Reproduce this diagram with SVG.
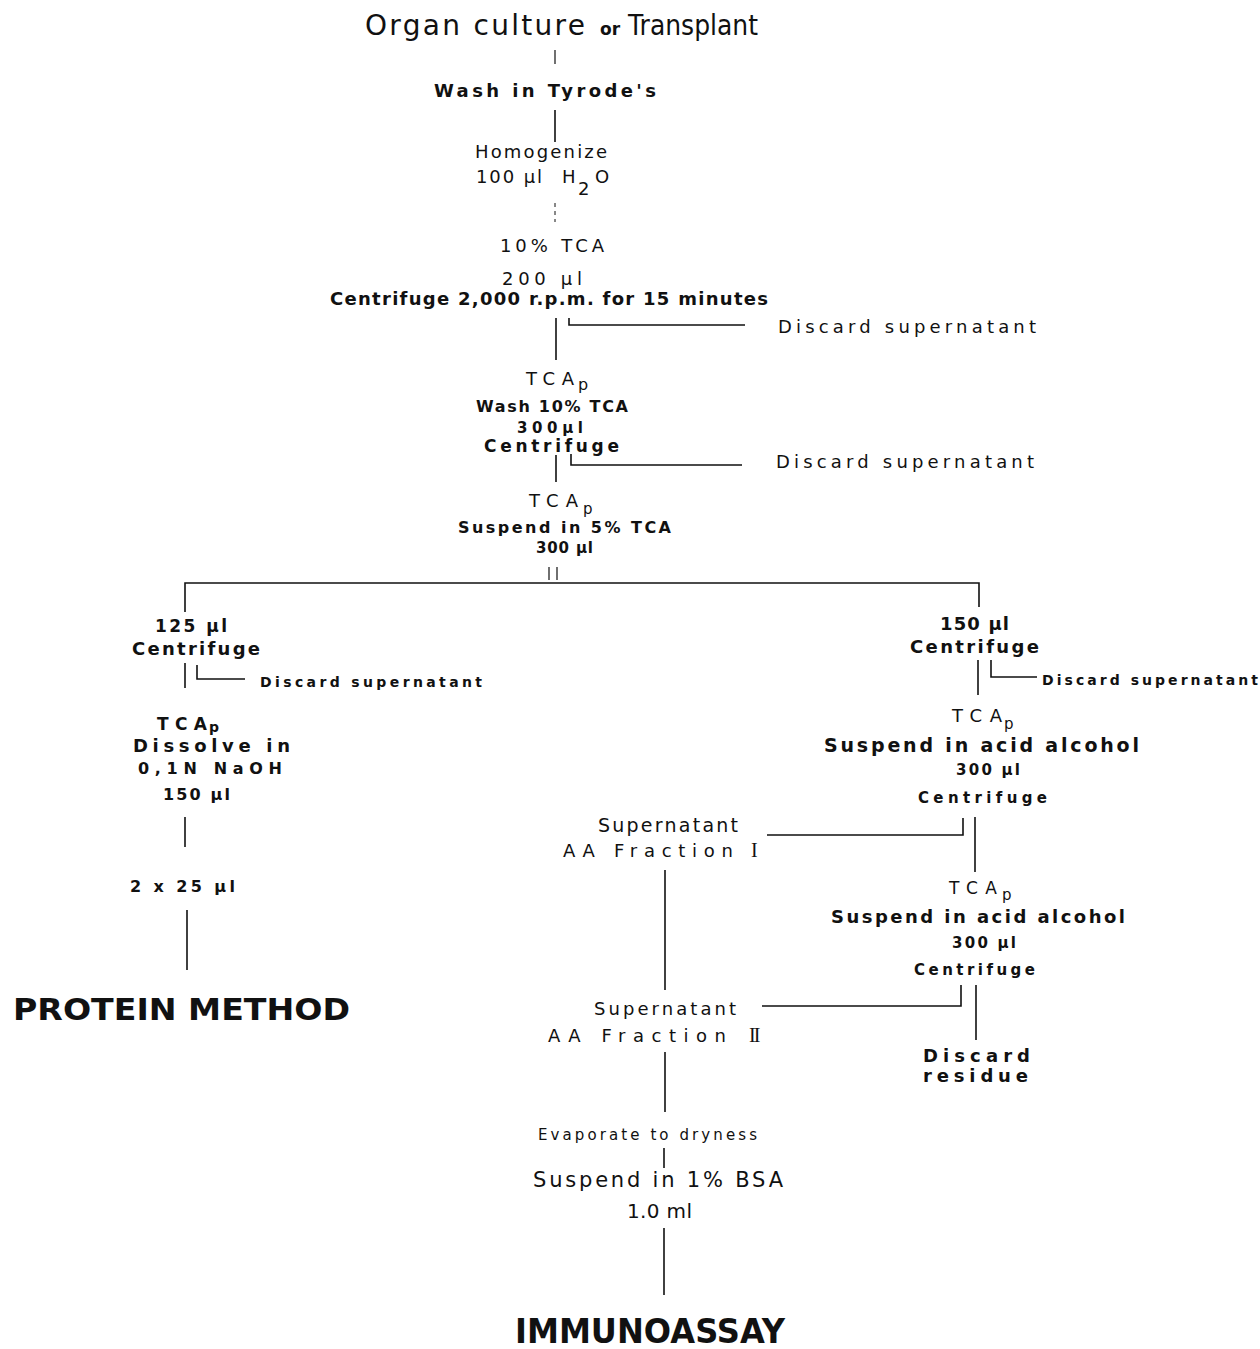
<svg xmlns="http://www.w3.org/2000/svg" width="1260" height="1349" viewBox="0 0 1260 1349">
<style>
text{font-family:"DejaVu Sans","Liberation Sans",sans-serif;fill:#111}
.b{font-weight:bold}
.r{font-family:"Liberation Serif","DejaVu Serif",serif}
.c path{stroke:#111;stroke-width:1.6;fill:none}
.big{font-weight:bold}
</style>
<rect width="1260" height="1349" fill="#fff"/>
<g class="c" id="connectors">
<path d="M555 50V64" style="stroke-width:1.2"/>
<path d="M555 110V142"/>
<path d="M555 203V222" stroke-dasharray="4 4" style="stroke-width:1"/>
<path d="M556 318V360"/>
<path d="M569 318V325H745"/>
<path d="M556 455V482"/>
<path d="M571 454V465H742"/>
<path d="M549 567V580M557 567V580" style="stroke-width:1.2"/>
<path d="M185 612V583H979V607"/>
<path d="M185 663V688"/>
<path d="M197 665V679H245"/>
<path d="M185 817V847"/>
<path d="M187 910V970"/>
<path d="M978 660V695"/>
<path d="M991 660V677H1037"/>
<path d="M963 818V835H767"/>
<path d="M975 817V872"/>
<path d="M665 870V990"/>
<path d="M961 985V1006H762"/>
<path d="M976 985V1040"/>
<path d="M665 1052V1112"/>
<path d="M664 1148V1168"/>
<path d="M664 1228V1295"/>
</g>
<g id="n-organ"><text x="365" y="35" font-size="28"><tspan textLength="220" lengthAdjust="spacing">Organ culture</tspan><tspan x="600" font-size="17" class="b">or</tspan><tspan x="628" textLength="130" lengthAdjust="spacingAndGlyphs">Transplant</tspan></text></g>
<g id="n-wash"><text x="434" y="97" font-size="18" class="b" textLength="222" lengthAdjust="spacing">Wash in Tyrode's</text></g>
<g id="n-homog"><text x="475" y="158" font-size="18" textLength="132" lengthAdjust="spacing">Homogenize</text>
<text x="476" y="183" font-size="18" textLength="66" lengthAdjust="spacing">100 µl</text>
<text x="562" y="183" font-size="18">H</text><text x="578" y="195" font-size="18">2</text><text x="595" y="183" font-size="18">O</text></g>
<g id="n-tca10"><text x="500" y="252" font-size="18" textLength="104" lengthAdjust="spacing">10% TCA</text>
<text x="502" y="285" font-size="18" textLength="80" lengthAdjust="spacing">200 µl</text>
<text x="330" y="305" font-size="18" class="b" textLength="438" lengthAdjust="spacing">Centrifuge 2,000 r.p.m. for 15 minutes</text></g>
<g id="n-discard1"><text x="778" y="333" font-size="18" textLength="258" lengthAdjust="spacing">Discard  supernatant</text></g>
<g id="n-tcap1"><text x="526" y="385" font-size="18" textLength="48" lengthAdjust="spacing">TCA</text><text x="578" y="390" font-size="16">p</text>
<text x="476" y="412" font-size="16" class="b" textLength="152" lengthAdjust="spacing">Wash 10% TCA</text>
<text x="517" y="433" font-size="15" class="b" textLength="66" lengthAdjust="spacing">300µl</text>
<text x="484" y="452" font-size="17" class="b" textLength="135" lengthAdjust="spacing">Centrifuge</text></g>
<g id="n-discard2"><text x="776" y="468" font-size="18" textLength="258" lengthAdjust="spacing">Discard  supernatant</text></g>
<g id="n-tcap2"><text x="529" y="507" font-size="18" textLength="49" lengthAdjust="spacing">TCA</text><text x="583" y="514" font-size="15">p</text>
<text x="458" y="533" font-size="16" class="b" textLength="213" lengthAdjust="spacing">Suspend in 5% TCA</text>
<text x="536" y="553" font-size="15" class="b" textLength="57" lengthAdjust="spacing">300 µl</text></g>
<g id="n-125"><text x="155" y="632" font-size="17" class="b" textLength="72" lengthAdjust="spacing">125 µl</text>
<text x="132" y="655" font-size="18" class="b" textLength="128" lengthAdjust="spacing">Centrifuge</text></g>
<g id="n-discard3"><text x="260" y="687" font-size="14" class="b" textLength="222" lengthAdjust="spacing">Discard  supernatant</text></g>
<g id="n-tcap3"><text x="157" y="730" font-size="17" class="b" textLength="50" lengthAdjust="spacing">TCA</text><text x="209" y="732" font-size="14" class="b">p</text>
<text x="133" y="752" font-size="18" class="b" textLength="157" lengthAdjust="spacing">Dissolve in</text>
<text x="138" y="774" font-size="16" class="b" textLength="144" lengthAdjust="spacing">0,1N  NaOH</text>
<text x="163" y="800" font-size="16" class="b" textLength="67" lengthAdjust="spacing">150 µl</text></g>
<g id="n-2x25"><text x="130" y="892" font-size="16" class="b" textLength="105" lengthAdjust="spacing">2 x 25 µl</text></g>
<g id="n-protein"><text x="13" y="1020" font-size="30" class="big" textLength="337" lengthAdjust="spacingAndGlyphs">PROTEIN  METHOD</text></g>
<g id="n-150"><text x="940" y="630" font-size="18" class="b" textLength="69" lengthAdjust="spacing">150 µl</text>
<text x="910" y="653" font-size="18" class="b" textLength="129" lengthAdjust="spacing">Centrifuge</text></g>
<g id="n-discard4"><text x="1042" y="685" font-size="14" class="b" textLength="216" lengthAdjust="spacing">Discard  supernatant</text></g>
<g id="n-tcap4"><text x="952" y="722" font-size="18" textLength="50" lengthAdjust="spacing">TCA</text><text x="1004" y="729" font-size="15">p</text>
<text x="824" y="752" font-size="19" class="b" textLength="315" lengthAdjust="spacing">Suspend in acid  alcohol</text>
<text x="956" y="775" font-size="15" class="b" textLength="64" lengthAdjust="spacing">300 µl</text>
<text x="918" y="803" font-size="15" class="b" textLength="129" lengthAdjust="spacing">Centrifuge</text></g>
<g id="n-frac1"><text x="598" y="832" font-size="19" textLength="140" lengthAdjust="spacing">Supernatant</text>
<text x="563" y="857" font-size="18" textLength="170" lengthAdjust="spacing">AA Fraction</text><text x="751" y="857" font-size="20" class="r">I</text></g>
<g id="n-tcap5"><text x="949" y="894" font-size="17" textLength="48" lengthAdjust="spacing">TCA</text><text x="1002" y="900" font-size="15">p</text>
<text x="831" y="923" font-size="18" class="b" textLength="294" lengthAdjust="spacing">Suspend in acid alcohol</text>
<text x="952" y="948" font-size="15" class="b" textLength="64" lengthAdjust="spacing">300 µl</text>
<text x="914" y="975" font-size="15" class="b" textLength="121" lengthAdjust="spacing">Centrifuge</text></g>
<g id="n-frac2"><text x="594" y="1015" font-size="18" textLength="142" lengthAdjust="spacing">Supernatant</text>
<text x="548" y="1042" font-size="18" textLength="178" lengthAdjust="spacing">AA Fraction</text><text x="749" y="1042" font-size="20" class="r" letter-spacing="-2">II</text></g>
<g id="n-residue"><text x="923" y="1062" font-size="18" class="b" textLength="107" lengthAdjust="spacing">Discard</text>
<text x="923" y="1082" font-size="18" class="b" textLength="105" lengthAdjust="spacing">residue</text></g>
<g id="n-evap"><text x="538" y="1140" font-size="15" textLength="219" lengthAdjust="spacing">Evaporate to dryness</text></g>
<g id="n-bsa"><text x="533" y="1187" font-size="21" textLength="250" lengthAdjust="spacing">Suspend in 1% BSA</text>
<text x="627" y="1218" font-size="20" textLength="65" lengthAdjust="spacing">1.0 ml</text></g>
<g id="n-immuno"><text x="515" y="1343" font-size="34" class="big" textLength="270" lengthAdjust="spacingAndGlyphs">IMMUNOASSAY</text></g>
</svg>
